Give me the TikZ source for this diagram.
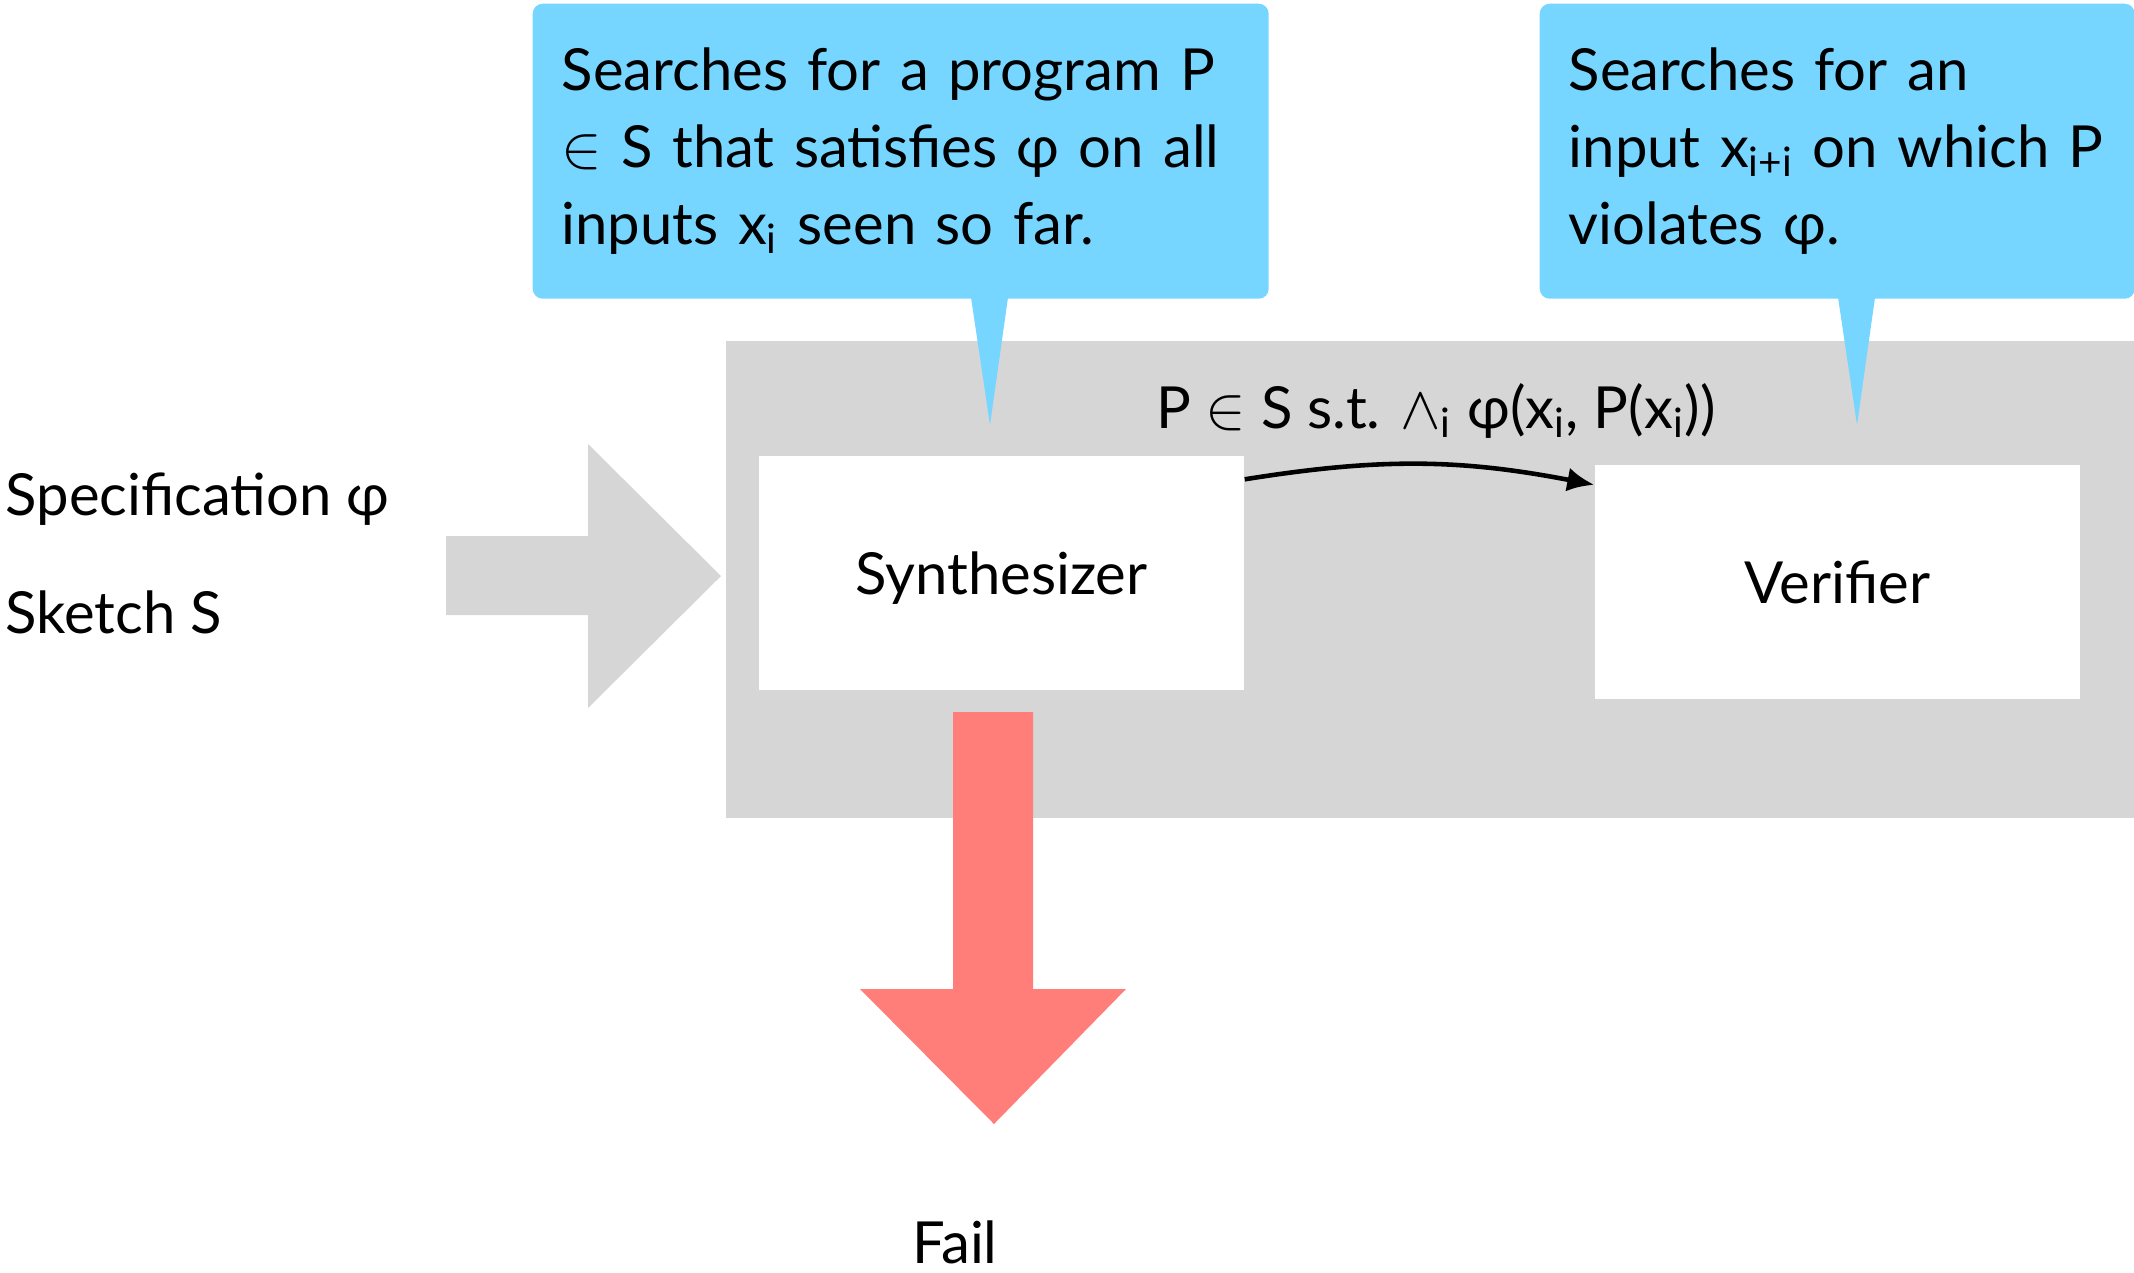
\documentclass[tikz,border=0pt]{standalone}
\usepackage{fontspec}
\setmainfont{Lato}
\usetikzlibrary{arrows.meta, positioning, calc}
\definecolor{callblue}{HTML}{76D6FF}
\definecolor{panelgray}{HTML}{D6D6D6}
\definecolor{failred}{HTML}{FF7E79}
\tikzset{
  callout/.style={rectangle, fill=callblue, rounded corners=0.1cm, align=left, anchor=north west,
    inner xsep=0.29cm, minimum height=2.95cm, font=\fontsize{16.5}{21.9}\selectfont},
  unit/.style={rectangle, fill=white, minimum width=4.85cm, minimum height=2.34cm,
    text height=0.43cm, text depth=0cm, font=\fontsize{16.5}{20}\selectfont},
  plain/.style={inner sep=0, font=\fontsize{16.5}{20}\selectfont}
}

\begin{document}
\begin{tikzpicture}[>=latex]
        \useasboundingbox (0,0) rectangle (21.34,-12.72);
        % Grey loop area
        \node[fill=panelgray, anchor=north west, minimum width=14.09cm, minimum height=4.77cm, inner sep=0] (panel) at (7.25,-3.40) {};

        % Inputs
        \node[plain, anchor=base west] (spec) at (0.05,-5.15) {Specification φ};
        \node[plain, anchor=base west] (sketch) at (0.05,-6.33) {Sketch S};
        \fill[panelgray] (4.46,-5.36) -- (5.88,-5.36) -- (5.88,-4.44) -- (7.21,-5.76)
            -- (5.88,-7.08) -- (5.88,-6.15) -- (4.46,-6.15) -- cycle;

        % Loop
        \node[unit] (synth) at (10.015,-5.73) {Synthesizer};
        \node[unit] (verif) at (18.375,-5.815) {Verifier};
        \draw[-{Latex[length=0.27cm, width=0.24cm]}, line width=1.3pt]
            ([yshift=-0.24cm]synth.north east) to[bend left=10]
            node[midway, above=0.12cm, xshift=0.16cm, font=\fontsize{16.5}{20}\selectfont] (cand) {P $\in$ S s.t. $\wedge$\textsubscript{i} φ(x\textsubscript{i}, P(x\textsubscript{i}))}
            ([yshift=-0.21cm]verif.north west);

        % Failure
        \fill[failred] (9.53,-7.12) -- (10.33,-7.12) -- (10.33,-9.89) -- (11.26,-9.89)
            -- (9.94,-11.24) -- (8.60,-9.89) -- (9.53,-9.89) -- cycle;
        \node[plain, anchor=base] (fail) at (9.55,-12.63) {Fail};

        % Callouts
        \coordinate (synthtip) at (9.90,-4.25);
        \coordinate (veriftip) at (18.57,-4.25);
        \node[callout, text width=6.78cm] (synthcall) at (5.32,-0.03)
            {Searches for a program P\\ $\in$ S that satisfies φ on all\\ inputs x\textsubscript{i} seen so far.};
        \node[callout, text width=5.37cm] (verifcall) at (15.39,-0.03)
            {Searches for an\\ input x\textsubscript{i+i} on which P\\ violates φ.};
        \fill[callblue] ([xshift=4.39cm, yshift=0.02cm]synthcall.south west) -- (synthtip)
            -- ([xshift=4.76cm, yshift=0.02cm]synthcall.south west) -- cycle;
        \fill[callblue] ([xshift=2.99cm, yshift=0.02cm]verifcall.south west) -- (veriftip)
            -- ([xshift=3.36cm, yshift=0.02cm]verifcall.south west) -- cycle;
\end{tikzpicture}
\end{document}
